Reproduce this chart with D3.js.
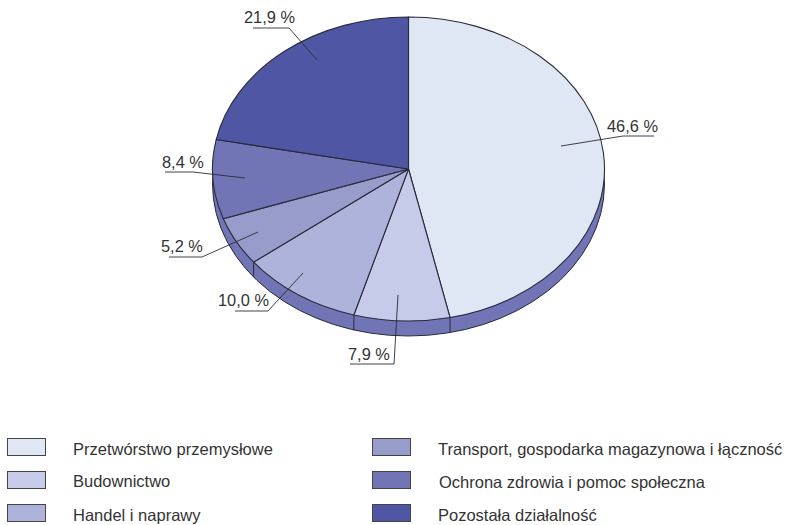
<!DOCTYPE html>
<html><head><meta charset="utf-8">
<script src="https://cdn.jsdelivr.net/npm/d3@7"></script>
<style>html,body{margin:0;padding:0;background:#fff}svg{display:block}text{font-family:"Liberation Sans",Arial,sans-serif;fill:#333}</style>
</head><body><svg id="c" width="787" height="525"></svg>
<script>
const categories = ["Przetwórstwo przemysłowe","Budownictwo","Handel i naprawy","Transport, gospodarka magazynowa i łączność","Ochrona zdrowia i pomoc społeczna","Pozostała działalność"];
const values = [46.6,7.9,10.0,5.2,8.4,21.9];
const labels = ["46,6 %","7,9 %","10,0 %","5,2 %","8,4 %","21,9 %"];
const colors = ["#dfe6f4","#c5cbe8","#adb3da","#979cca","#7175b6","#4f56a4"];
const sideColor = "#7175b6";
const lineColor = "#2a2a3a";

const cx=408.5, cy=169, rx=196, ry=152, depth=15;
const leaders = [
 {pts:[[561,146],[623,136],[654,136]],tx:607,ty:132},
 {pts:[[398,295],[394,364],[350,364]],tx:348,ty:360},
 {pts:[[303,273],[268,311],[235,311]],tx:218,ty:306},
 {pts:[[258,232],[202,257],[169,257]],tx:161,ty:252},
 {pts:[[245,178],[193,172],[165,172]],tx:162,ty:168},
 {pts:[[317,60],[289,28],[253,28]],tx:244,ty:23}
];
const legendPos = [
 {x:7,y:438,tx:73,ty:455},{x:7,y:471,tx:73,ty:487},{x:7,y:504,tx:73,ty:521},
 {x:372,y:438,tx:438,ty:455},{x:372,y:471,tx:439,ty:488},{x:372,y:504,tx:438,ty:521}
];

const svg=d3.select("#c");
const pie=d3.pie().sort(null).value(d=>d);
const arcs=pie(values);
const arc=d3.arc().innerRadius(0).outerRadius(rx);
const sy=ry/rx;
const px=a=>cx+rx*Math.sin(a), py=a=>cy-ry*Math.cos(a);

svg.append("path")
 .attr("d",arc({startAngle:0,endAngle:2*Math.PI}))
 .attr("transform",`translate(${cx},${cy+depth}) scale(1,${sy})`)
 .attr("fill",sideColor).attr("stroke",lineColor).attr("stroke-width",1)
 .attr("vector-effect","non-scaling-stroke");

svg.append("g").selectAll("line")
 .data(arcs.slice(0,3))
 .join("line")
 .attr("x1",d=>px(d.endAngle))
 .attr("x2",d=>px(d.endAngle))
 .attr("y1",d=>py(d.endAngle))
 .attr("y2",d=>py(d.endAngle)+depth)
 .attr("stroke",lineColor).attr("stroke-width",1);

svg.append("g").attr("transform",`translate(${cx},${cy}) scale(1,${sy})`)
 .selectAll("path").data(arcs).join("path")
 .attr("d",arc).attr("fill",(d,i)=>colors[i])
 .attr("stroke",lineColor).attr("stroke-width",1.1)
 .attr("vector-effect","non-scaling-stroke").attr("stroke-linejoin","round");

const line=d3.line();
svg.append("g").selectAll("path").data(leaders).join("path")
 .attr("d",d=>line(d.pts)).attr("fill","none").attr("stroke",lineColor).attr("stroke-width",0.9);

svg.append("g").selectAll("text").data(labels).join("text")
 .attr("x",(d,i)=>leaders[i].tx).attr("y",(d,i)=>leaders[i].ty)
 .attr("font-size",16.4).text(d=>d);

const lg=svg.append("g");
lg.selectAll("rect").data(categories).join("rect")
 .attr("x",(d,i)=>legendPos[i].x+.5).attr("y",(d,i)=>legendPos[i].y+.5)
 .attr("width",38).attr("height",17)
 .attr("fill",(d,i)=>colors[i]).attr("stroke","#444").attr("stroke-width",1);
lg.selectAll("text").data(categories).join("text")
 .attr("x",(d,i)=>legendPos[i].tx).attr("y",(d,i)=>legendPos[i].ty)
 .attr("font-size",16.5).text(d=>d);
</script></body></html>
